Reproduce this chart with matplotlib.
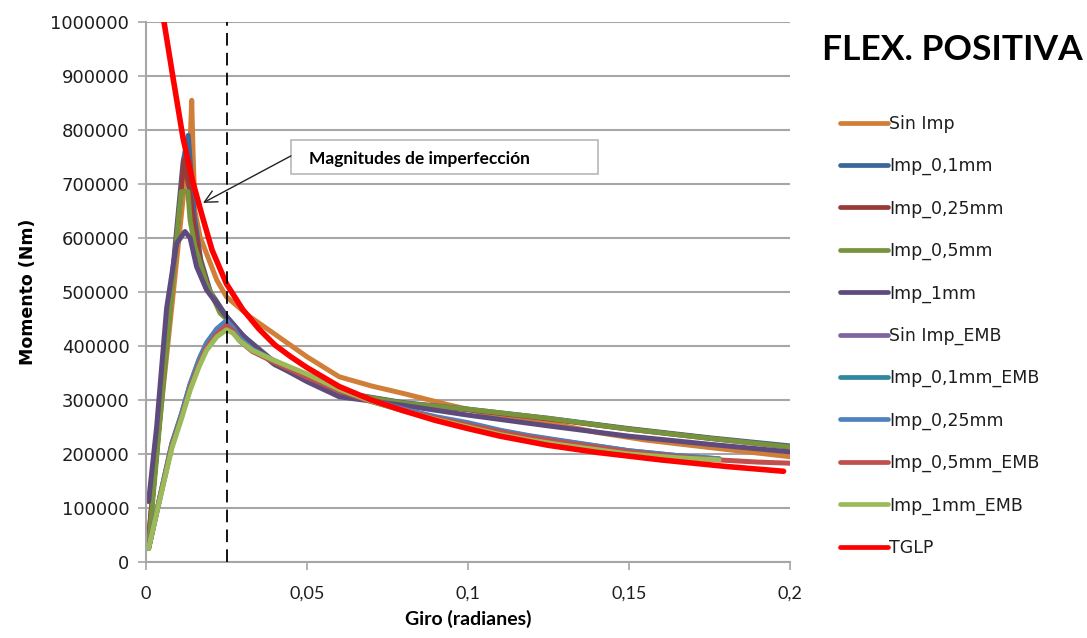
import matplotlib
matplotlib.use("Agg")
import matplotlib.pyplot as plt
from matplotlib.patches import Rectangle
from matplotlib.ticker import FixedLocator, FixedFormatter

# ---- data: rotation (rad) vs. moment (Nm) ----
sin_imp_x = [0.0008, 0.0043, 0.0085, 0.0125, 0.0138, 0.0142, 0.0146, 0.0152, 0.0168, 0.022, 0.025,
             0.0323, 0.0395, 0.050, 0.060, 0.070, 0.080, 0.094, 0.110, 0.120, 0.130, 0.140, 0.155, 0.175, 0.200]
sin_imp_y = [45000, 263000, 500000, 730000, 790000, 855000, 760000, 650000, 602000, 522000, 491000,
             454000, 424000, 380000, 343000, 326000, 312000, 291000, 269000, 262000, 252000, 240000, 226000, 212000, 195000]

imp01_x = [0.0008, 0.004, 0.008, 0.0115, 0.0131, 0.0140, 0.0150, 0.017, 0.020, 0.025, 0.030, 0.040,
           0.050, 0.060, 0.080, 0.100, 0.125, 0.150, 0.175, 0.200]
imp01_y = [40000, 250000, 520000, 740000, 790000, 720000, 640000, 560000, 500000, 455000, 420000, 370000,
           340000, 315000, 295000, 283000, 266000, 247000, 230000, 215000]

imp025_x = [0.0008, 0.004, 0.008, 0.0118, 0.0135, 0.015, 0.017, 0.020, 0.025, 0.030, 0.040, 0.050,
            0.060, 0.080, 0.100, 0.125, 0.150, 0.175, 0.200]
imp025_y = [40000, 250000, 510000, 745000, 690000, 620000, 555000, 498000, 452000, 418000, 368000, 338000,
            314000, 294000, 282000, 265000, 246000, 229000, 213000]

imp05_x = [0.0008, 0.004, 0.008, 0.0105, 0.011, 0.013, 0.0137, 0.0152, 0.0188, 0.023, 0.025, 0.030,
           0.040, 0.050, 0.060, 0.080, 0.100, 0.125, 0.150, 0.175, 0.200]
imp05_y = [28000, 240000, 500000, 660000, 686000, 686000, 633000, 584000, 516000, 461000, 450000, 415000,
           365000, 338000, 314000, 294000, 283000, 266000, 246000, 229000, 213000]

imp1_x = [0.0008, 0.0033, 0.0064, 0.0095, 0.0121, 0.0137, 0.0157, 0.0188, 0.025, 0.0323, 0.0395, 0.050,
          0.060, 0.080, 0.100, 0.125, 0.150, 0.175, 0.200]
imp1_y = [112000, 250000, 470000, 590000, 612000, 600000, 547000, 504000, 454000, 405000, 368000, 334000,
          306000, 290000, 272000, 252000, 233000, 218000, 204000]

emb_x = [0.0008, 0.004, 0.008, 0.011, 0.0137, 0.0165, 0.0188, 0.022, 0.025, 0.027, 0.029, 0.033,
         0.0395, 0.050, 0.060, 0.070, 0.080, 0.090, 0.100, 0.110, 0.119, 0.130, 0.150, 0.165, 0.178]
sin_imp_emb_y = [25000, 110000, 215000, 270000, 325000, 370000, 400000, 425000, 440000, 430000, 412000, 392000,
                 372000, 343000, 318000, 298000, 281000, 267000, 255000, 242000, 232000, 222000, 205000, 196000, 190000]
imp01_emb_y = [25000, 112000, 218000, 273000, 328000, 374000, 404000, 430000, 445000, 433000, 414000, 393000,
               373000, 344000, 319000, 299000, 282000, 268000, 256000, 243000, 233000, 223000, 206000, 197000, 191000]
imp025_emb_y = [25000, 112000, 219000, 274000, 330000, 376000, 406000, 432000, 447000, 434000, 415000, 394000,
                374000, 345000, 320000, 300000, 283000, 269000, 258000, 244000, 234000, 224000, 206000, 197000, 191000]

imp05_emb_x = [0.0008, 0.004, 0.008, 0.011, 0.0137, 0.0165, 0.0188, 0.022, 0.025, 0.027, 0.029, 0.033,
               0.0395, 0.050, 0.060, 0.070, 0.080, 0.090, 0.100, 0.110, 0.119, 0.130, 0.150, 0.165, 0.178, 0.190, 0.200]
imp05_emb_y = [25000, 110000, 214000, 268000, 322000, 367000, 397000, 422000, 438000, 428000, 410000, 390000,
               371000, 342000, 317000, 297000, 280000, 266000, 254000, 241000, 231000, 221000, 204000, 195000, 189000, 185000, 183000]

imp1_emb_y = [25000, 108000, 210000, 265000, 318000, 362000, 392000, 417000, 430000, 424000, 410000, 392000,
              374000, 348000, 320000, 298000, 280000, 264000, 250000, 236000, 226000, 216000, 200000, 193000, 189000]

tglp_x = [0.0050, 0.0085, 0.0115, 0.0145, 0.0175, 0.0205, 0.025, 0.030, 0.035, 0.040, 0.045, 0.050,
          0.060, 0.070, 0.080, 0.090, 0.100, 0.110, 0.125, 0.140, 0.160, 0.180, 0.198]
tglp_y = [1022000, 893000, 785000, 705000, 640000, 578000, 515000, 468000, 432000, 402000, 380000, 360000,
          325000, 300000, 280000, 262000, 247000, 233000, 216000, 203000, 189000, 177000, 168000]

x_ticks = [0, 0.05, 0.1, 0.15, 0.2]
x_tick_labels = ["0", "0,05", "0,1", "0,15", "0,2"]
y_ticks = list(range(0, 1000001, 100000))
y_tick_labels = [str(v) for v in y_ticks]

series = [
    ("Sin Imp", sin_imp_x, sin_imp_y, "#D07E38"),
    ("Imp_0,1mm", imp01_x, imp01_y, "#3A679A"),
    ("Imp_0,25mm", imp025_x, imp025_y, "#983A38"),
    ("Imp_0,5mm", imp05_x, imp05_y, "#77933C"),
    ("Imp_1mm", imp1_x, imp1_y, "#5F4A7D"),
    ("Sin Imp_EMB", emb_x, sin_imp_emb_y, "#8064A2"),
    ("Imp_0,1mm_EMB", emb_x, imp01_emb_y, "#31859C"),
    ("Imp_0,25mm", emb_x, imp025_emb_y, "#4F81BD"),
    ("Imp_0,5mm_EMB", imp05_emb_x, imp05_emb_y, "#C0504D"),
    ("Imp_1mm_EMB", emb_x, imp1_emb_y, "#9BBB59"),
    ("TGLP", tglp_x, tglp_y, "#FF0000"),
]

W, H = 1087, 638
fig = plt.figure(figsize=(W / 100, H / 100), dpi=100)
ax = fig.add_axes([146 / W, 1 - 562 / H, 644 / W, 540 / H])

grid_c = "#a6a6a6"
for name, xs, ys, col in series:
    lw = 4.0 if name == "TGLP" else 3.6
    ax.plot(xs, ys, color=col, lw=lw, solid_capstyle="round", solid_joinstyle="round", label=name)

ax.set_xlim(0, 0.2)
ax.set_ylim(0, 1000000)
ax.yaxis.set_major_locator(FixedLocator(y_ticks))
ax.yaxis.set_major_formatter(FixedFormatter(y_tick_labels))
ax.xaxis.set_major_locator(FixedLocator(x_ticks))
ax.xaxis.set_major_formatter(FixedFormatter(x_tick_labels))

ax.grid(axis="y", color=grid_c, lw=1.5)
ax.set_axisbelow(True)
for s in ("top", "right"):
    ax.spines[s].set_visible(False)
for s in ("left", "bottom"):
    ax.spines[s].set_color(grid_c)
    ax.spines[s].set_linewidth(1.5)
ax.tick_params(axis="both", color=grid_c, width=1.2, length=6)
ax.tick_params(axis="y", labelsize=13, labelcolor="#1e1e1e", pad=6)
ax.tick_params(axis="x", labelsize=13, labelcolor="#1e1e1e", pad=11)
for lbl in ax.get_xticklabels():
    lbl.set_family("Lato")
for lbl in ax.get_yticklabels():
    lbl.set_family("DejaVu Sans")

ax.set_ylabel("Momento (Nm)", fontsize=12.5, fontweight="bold", family="DejaVu Sans", labelpad=10)
ax.set_xlabel("Giro (radianes)", fontsize=14, fontweight="bold", family="Lato", labelpad=6)

# reference rotation marker
ax.axvline(0.025, color="black", lw=1.3, ls=(0, (7, 4)), zorder=5)

# annotation box and arrow
ax.add_patch(Rectangle((0.0450, 718500), 0.0954, 63000, facecolor="white",
                       edgecolor="#b8b8b8", lw=1.2, zorder=6, clip_on=False))
ax.text(0.0506, 746000, "Magnitudes de imperfección", fontsize=12.5, fontweight="bold",
        family="Lato", ha="left", va="center", zorder=7)
ax.annotate("", xy=(0.0177, 665000), xytext=(0.0450, 752000),
            arrowprops=dict(arrowstyle="->", color="#222222", lw=1.0, mutation_scale=22,
                            shrinkA=0, shrinkB=0), zorder=7)

fig.text(822 / W, 1 - 50 / H, "FLEX. POSITIVA", fontsize=25.5, fontweight="bold",
         family="Lato", ha="left", va="center")

leg = ax.legend(loc="upper left", bbox_to_anchor=(840 / W, 1 - 115 / H), bbox_transform=fig.transFigure,
                frameon=False, fontsize=12.5, handlelength=2.75, handletextpad=0.1,
                labelspacing=1.39, borderaxespad=0, borderpad=0)
for t in leg.get_texts():
    t.set_family("DejaVu Sans")
    t.set_color("#1e1e1e")
for h in leg.get_lines():
    h.set_linewidth(3.4)

fig.savefig("out.png", dpi=100)
